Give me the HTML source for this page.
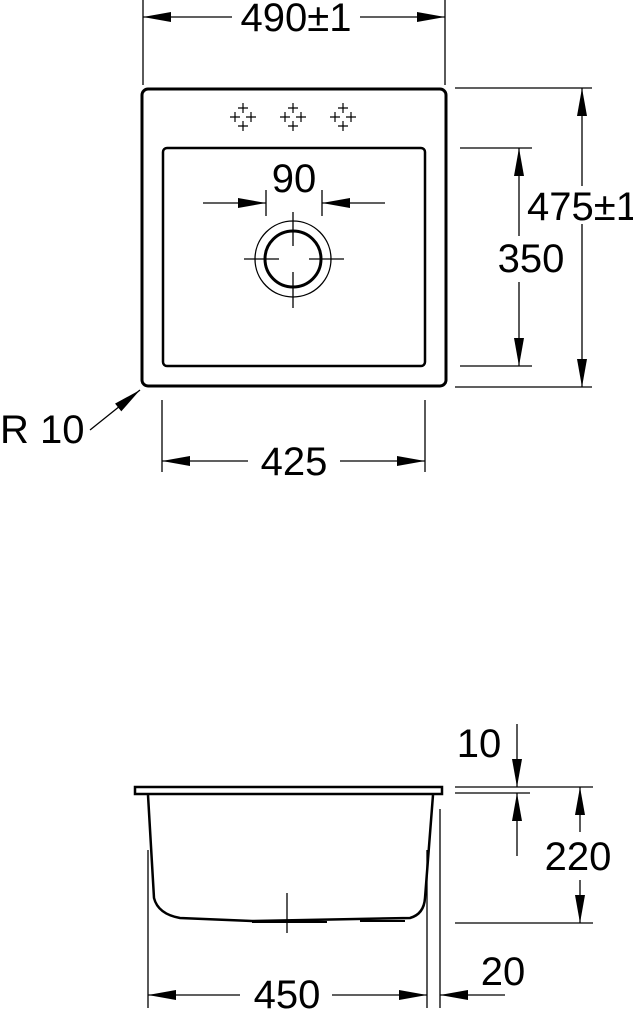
<!DOCTYPE html>
<html><head><style>html,body{margin:0;padding:0;background:#fff}svg{display:block}text{font-family:"Liberation Sans",Arial,sans-serif;font-size:40px;fill:#000}</style></head><body>
<svg width="633" height="1013" viewBox="0 0 633 1013" xmlns="http://www.w3.org/2000/svg">
<defs>
<marker id="a" viewBox="0 0 28 10" refX="28" refY="5" markerWidth="28" markerHeight="10" markerUnits="userSpaceOnUse" orient="auto"><path d="M0,0L28,5L0,10z" fill="#000"/></marker>
</defs>
<g stroke="#000" fill="none" stroke-width="1.3">
<line x1="143" y1="0" x2="143" y2="85"/><line x1="445" y1="0" x2="445" y2="85"/>
<line x1="232" y1="17" x2="143" y2="17" marker-end="url(#a)"/><line x1="360" y1="17" x2="445" y2="17" marker-end="url(#a)"/>
<rect x="142" y="89" width="304" height="297" rx="6" stroke-width="3"/>
<rect x="163" y="148" width="262" height="218" rx="4" stroke-width="2.5"/>
<g id="t" stroke-width="1.2">
<path d="M243,103v10M238,108h10M243,121v10M238,126h10M230,117h10M235,112v10M246,117h10M251,112v10"/>
</g>
<use href="#t" x="50"/><use href="#t" x="100"/>
<line x1="266" y1="190" x2="266" y2="216"/><line x1="322" y1="190" x2="322" y2="216"/>
<line x1="203" y1="203" x2="266" y2="203" marker-end="url(#a)"/><line x1="385" y1="203" x2="322" y2="203" marker-end="url(#a)"/>
<circle cx="293" cy="259" r="28" stroke-width="3"/><circle cx="293" cy="259" r="38"/>
<path d="M293,212v34M293,272v36M244,259h35M309,259h35"/>
<line x1="455" y1="88" x2="592" y2="88"/><line x1="455" y1="387" x2="592" y2="387"/>
<line x1="460" y1="148" x2="532" y2="148"/><line x1="460" y1="366" x2="532" y2="366"/>
<line x1="582" y1="186" x2="582" y2="88" marker-end="url(#a)"/><line x1="582" y1="224" x2="582" y2="387" marker-end="url(#a)"/>
<line x1="519" y1="236" x2="519" y2="148" marker-end="url(#a)"/><line x1="519" y1="282" x2="519" y2="366" marker-end="url(#a)"/>
<line x1="90" y1="430" x2="140" y2="390" marker-end="url(#a)"/>
<line x1="162" y1="400" x2="162" y2="472"/><line x1="425" y1="400" x2="425" y2="472"/>
<line x1="248" y1="461" x2="162" y2="461" marker-end="url(#a)"/><line x1="340" y1="461" x2="425" y2="461" marker-end="url(#a)"/>
<rect x="135" y="787" width="307" height="7" stroke-width="2.5"/>
<path d="M148,795 L154,898 Q158,914 180,918 L252,921 L410,918 Q424,914 425,898 L433,795" stroke-width="2.5"/>
<path d="M252,922h75M360,921h45" stroke-width="2"/>
<path d="M287,893v40"/>
<line x1="148" y1="850" x2="148" y2="1008"/><line x1="427" y1="850" x2="427" y2="1008"/><line x1="440" y1="809" x2="440" y2="1008"/>
<line x1="240" y1="995" x2="148" y2="995" marker-end="url(#a)"/><line x1="332" y1="995" x2="427" y2="995" marker-end="url(#a)"/>
<line x1="505" y1="995" x2="440" y2="995" marker-end="url(#a)"/>
<line x1="455" y1="787" x2="593" y2="787"/><line x1="455" y1="793" x2="530" y2="793"/><line x1="455" y1="923" x2="593" y2="923"/>
<line x1="517" y1="724" x2="517" y2="787" marker-end="url(#a)"/><line x1="517" y1="856" x2="517" y2="793" marker-end="url(#a)"/>
<line x1="580" y1="832" x2="580" y2="787" marker-end="url(#a)"/><line x1="580" y1="880" x2="580" y2="923" marker-end="url(#a)"/>
</g>
<text x="296" y="31" text-anchor="middle">490±1</text>
<text x="294" y="192" text-anchor="middle">90</text>
<text x="527" y="220">475±1</text>
<text x="531" y="272" text-anchor="middle">350</text>
<text x="0" y="443">R 10</text>
<text x="294" y="475" text-anchor="middle">425</text>
<text x="479" y="757" text-anchor="middle">10</text>
<text x="578" y="870" text-anchor="middle">220</text>
<text x="287" y="1008" text-anchor="middle">450</text>
<text x="503" y="985" text-anchor="middle">20</text>
</svg>
</body></html>
